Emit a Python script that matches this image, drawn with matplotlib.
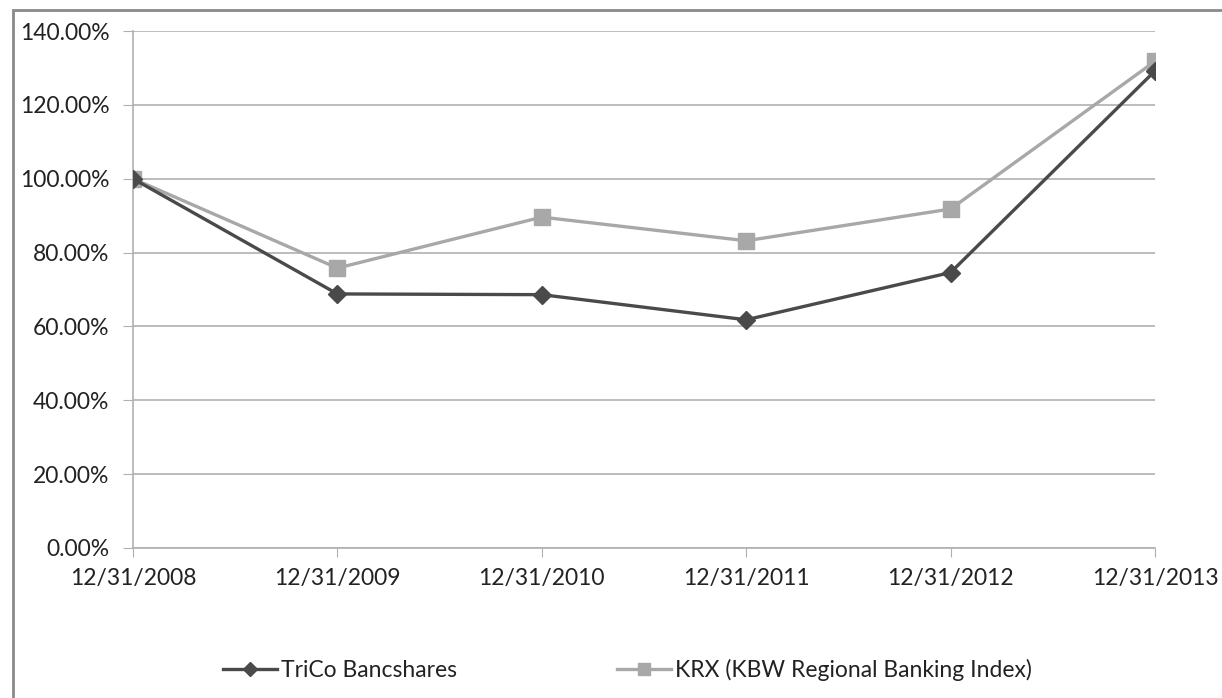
import matplotlib.pyplot as plt
from matplotlib.patches import Rectangle

dates = ['12/31/2008', '12/31/2009', '12/31/2010', '12/31/2011', '12/31/2012', '12/31/2013']
trico = [100.0, 68.8, 68.6, 61.8, 74.6, 129.2]
krx = [100.0, 75.8, 89.6, 83.2, 91.8, 131.8]
y_ticks = [0, 20, 40, 60, 80, 100, 120, 140]

plt.rcParams['font.family'] = ['Lato', 'DejaVu Sans']

fig = plt.figure(figsize=(12.22, 6.98), dpi=100)
ax = fig.add_axes([133 / 1222, 1 - 548 / 698, (1155 - 133) / 1222, (548 - 31) / 698])

x = list(range(len(dates)))
ax.plot(x, trico, color='#4a4a4a', lw=2.4, marker='D', ms=9, label='TriCo Bancshares', zorder=3)
ax.plot(x, krx, color='#a8a8a8', lw=2.4, marker='s', ms=11, label='KRX (KBW Regional Banking Index)', zorder=2)

ax.set_xlim(0, len(dates) - 1)
ax.set_ylim(0, 140)
ax.set_yticks(y_ticks)
ax.set_yticklabels(['%.2f%%' % v for v in y_ticks])
ax.set_xticks(x)
ax.set_xticklabels(dates)
ax.grid(axis='y', color='#b0b0b0', lw=1.2)
ax.set_axisbelow(True)

for s in ['top', 'right']:
    ax.spines[s].set_visible(False)
ax.spines['left'].set_color('#b0b0b0')
ax.spines['bottom'].set_color('#b0b0b0')
ax.spines['left'].set_linewidth(1.2)
ax.spines['bottom'].set_linewidth(1.2)
ax.tick_params(axis='y', length=7, color='#b0b0b0', labelsize=16.5, pad=10, labelcolor='#222222')
ax.tick_params(axis='x', length=6.5, color='#b0b0b0', labelsize=16.5, pad=8, labelcolor='#222222')

fig.legend(loc='center', bbox_to_anchor=(0.5135, 1 - 670 / 698), ncol=2, frameon=False,
           fontsize=16.5, handlelength=2.35, handletextpad=0.17, columnspacing=7.0,
           markerscale=0.75, labelcolor='#222222')

fig.patches.append(Rectangle((13 / 1222, -0.1), 1.2, 1 - 10 / 698 + 0.1, transform=fig.transFigure,
                             fill=False, edgecolor='#8a8a8a', lw=2))

fig.savefig('out.png', dpi=100)
